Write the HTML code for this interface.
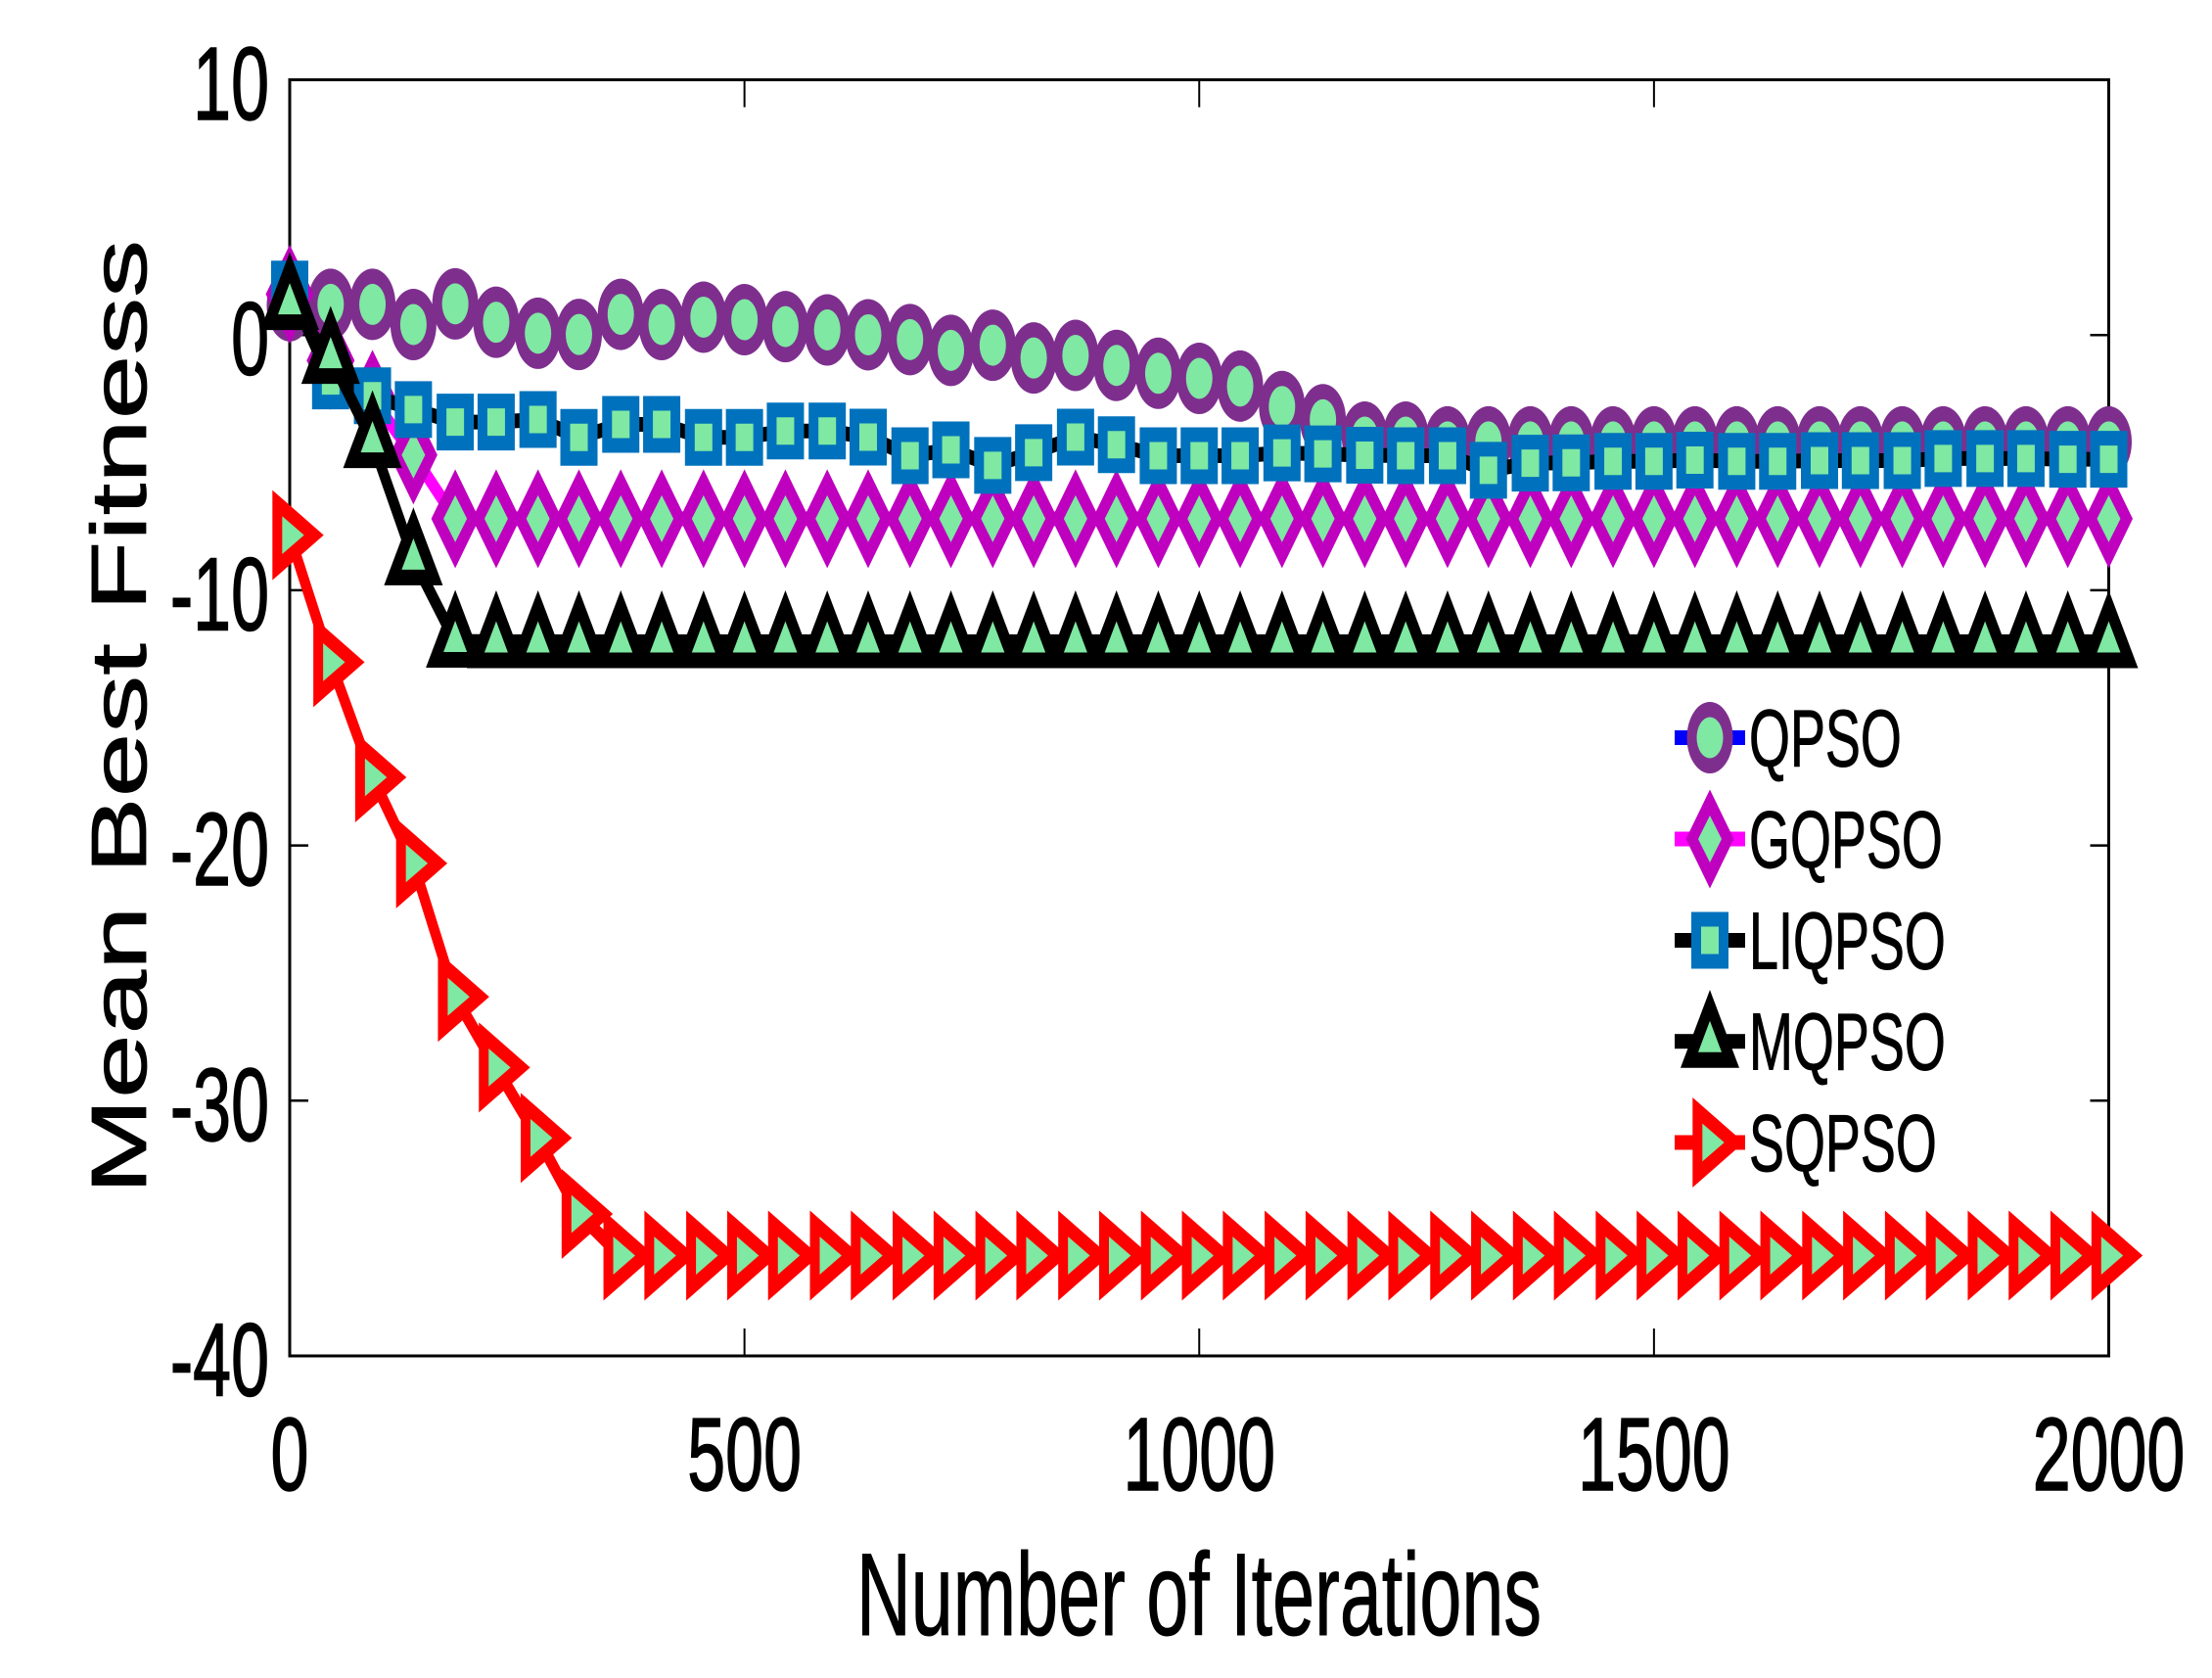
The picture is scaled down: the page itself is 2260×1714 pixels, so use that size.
<!DOCTYPE html>
<html>
<head>
<meta charset="utf-8">
<title>Mean Best Fitness vs Iterations</title>
<style>
html,body{margin:0;padding:0;background:#fff;}
svg{display:block;}
text{font-family:"Liberation Sans",sans-serif;fill:#000;}
</style>
</head>
<body>
<svg id="chart" xmlns="http://www.w3.org/2000/svg" width="2260" height="1714" viewBox="0 0 2260 1714">
  <rect x="0" y="0" width="2260" height="1714" fill="#fff"/>
  <g id="axes"></g>
  <g id="series"></g>
  <g id="legend"></g>
  <text x="875" y="1670" font-size="120" stroke="#000" stroke-width="1" textLength="700" lengthAdjust="spacingAndGlyphs">Number of Iterations</text>
  <text transform="translate(149,1220) rotate(-90)" font-size="80" stroke="#000" stroke-width="0.8" textLength="975" lengthAdjust="spacingAndGlyphs">Mean Best Fitness</text>
</svg>
<script>
const iterations = [0,45,91,136,182,227,273,318,364,409,455,500,545,591,636,682,727,773,818,864,909,955,1000,1045,1091,1136,1182,1227,1273,1318,1364,1409,1455,1500,1545,1591,1636,1682,1727,1773,1818,1864,1909,1955,2000];
const qpsoValues = [1.15,1.2,1.2,0.41,1.22,0.5,0.07,0.02,0.81,0.41,0.7,0.6,0.33,0.2,0.01,-0.18,-0.6,-0.4,-0.9,-0.8,-1.19,-1.5,-1.7,-2.0,-2.8,-3.32,-4.0,-4.0,-4.19,-4.19,-4.19,-4.19,-4.19,-4.19,-4.19,-4.19,-4.19,-4.19,-4.19,-4.19,-4.19,-4.19,-4.19,-4.19,-4.19];
const gqpsoValues = [1.6,-1.0,-2.52,-4.7,-7.2,-7.2,-7.2,-7.2,-7.2,-7.2,-7.2,-7.2,-7.2,-7.2,-7.2,-7.2,-7.2,-7.2,-7.2,-7.2,-7.2,-7.2,-7.2,-7.2,-7.2,-7.2,-7.2,-7.2,-7.2,-7.2,-7.2,-7.2,-7.2,-7.2,-7.2,-7.2,-7.2,-7.2,-7.2,-7.2,-7.2,-7.2,-7.2,-7.2,-7.2];
const liqpsoValues = [1.8,-1.8,-2.38,-2.92,-3.41,-3.41,-3.31,-4.01,-3.5,-3.5,-4.01,-4.01,-3.76,-3.76,-4.0,-4.73,-4.5,-5.11,-4.61,-4.0,-4.3,-4.73,-4.73,-4.73,-4.62,-4.66,-4.71,-4.73,-4.73,-5.3,-5.02,-5.01,-4.95,-4.95,-4.9,-4.95,-4.95,-4.92,-4.92,-4.92,-4.84,-4.84,-4.84,-4.87,-4.87];
const mqpsoValues = [1.23,-0.88,-4.18,-8.77,-12.0,-12.02,-12.02,-12.02,-12.02,-12.02,-12.02,-12.02,-12.02,-12.02,-12.02,-12.02,-12.02,-12.02,-12.02,-12.02,-12.02,-12.02,-12.02,-12.02,-12.02,-12.02,-12.02,-12.02,-12.02,-12.02,-12.02,-12.02,-12.02,-12.02,-12.02,-12.02,-12.02,-12.02,-12.02,-12.02,-12.02,-12.02,-12.02,-12.02,-12.02];
const sqpsoValues = [-7.84,-12.82,-17.33,-20.7,-25.93,-28.7,-31.46,-34.44,-36.07,-36.07,-36.07,-36.07,-36.07,-36.07,-36.07,-36.07,-36.07,-36.07,-36.07,-36.07,-36.07,-36.07,-36.07,-36.07,-36.07,-36.07,-36.07,-36.07,-36.07,-36.07,-36.07,-36.07,-36.07,-36.07,-36.07,-36.07,-36.07,-36.07,-36.07,-36.07,-36.07,-36.07,-36.07,-36.07,-36.07];
const xTicks = [0,500,1000,1500,2000];
const yTicks = [10,0,-10,-20,-30,-40];
const legendLabels = ["QPSO","GQPSO","LIQPSO","MQPSO","SQPSO"];

const NS = "http://www.w3.org/2000/svg";
const FILL = "#7FE8A2";
const LEFT = 296, RIGHT = 2154.5, TOP = 81.5, BOTTOM = 1385;
const X_MIN = 0, X_MAX = 2000, Y_MIN = -40, Y_MAX = 10;
function xScale(v){ return LEFT + (v - X_MIN) / (X_MAX - X_MIN) * (RIGHT - LEFT); }
function yScale(v){ return TOP + (Y_MAX - v) / (Y_MAX - Y_MIN) * (BOTTOM - TOP); }

function make(tag, attrs, parent){
  const el = document.createElementNS(NS, tag);
  for (const k in attrs) el.setAttribute(k, attrs[k]);
  parent.appendChild(el);
  return el;
}
function poly(parent, pts, fill, cx, cy){
  return make("polygon", {points: pts.map(p => (cx + p[0]) + "," + (cy + p[1])).join(" "), fill: fill}, parent);
}

const markerDrawers = {
  circle(g, cx, cy){
    make("ellipse", {cx: cx, cy: cy, rx: 23.5, ry: 36.5, fill: "#7E2F8E"}, g);
    make("ellipse", {cx: cx, cy: cy, rx: 13.5, ry: 21, fill: FILL}, g);
  },
  diamond(g, cx, cy){
    poly(g, [[0,-50.5],[24.5,0],[0,50.5],[-24.5,0]], "#BF00BF", cx, cy);
    poly(g, [[0,-24],[12,0],[0,24],[-12,0]], FILL, cx, cy);
  },
  square(g, cx, cy){
    poly(g, [[-19,-29],[19,-29],[19,29],[-19,29]], "#0072BD", cx, cy);
    poly(g, [[-9,-14],[9,-14],[9,14],[-9,14]], FILL, cx, cy);
  },
  triangleUp(g, cx, cy){
    poly(g, [[0,-52.6],[30,27],[-30,27]], "#000000", cx, cy);
    poly(g, [[0,-21],[12,11],[-12,11]], FILL, cx, cy);
  },
  triangleRight(g, cx, cy){
    poly(g, [[-17.7,-46],[34.7,0],[-17.7,46]], "#FF0000", cx, cy);
    poly(g, [[-7.7,-19.4],[14.7,0],[-7.7,19.4]], FILL, cx, cy);
  }
};

/* axes */
const axes = document.getElementById("axes");
const frame = make("rect", {x: LEFT, y: TOP, width: RIGHT - LEFT, height: BOTTOM - TOP, fill: "none", stroke: "#000", "stroke-width": 3}, axes);



xTicks.forEach(function(t){
  const x = xScale(t);
  const bottomTick = make("line", {x1: x, x2: x, y1: BOTTOM, y2: BOTTOM - 28, stroke: "#000", "stroke-width": 2}, axes);
  
  
  const topTick = make("line", {x1: x, x2: x, y1: TOP, y2: TOP + 28, stroke: "#000", "stroke-width": 2}, axes);
  
  
  const label = make("text", {"text-anchor": "middle", "font-size": 106, stroke: "#000", "stroke-width": 1.5, transform: "translate(" + x + ",1522) scale(0.66,1)"}, axes);
  label.textContent = String(t);
  
  
});
yTicks.forEach(function(t){
  const y = yScale(t);
  const leftTick = make("line", {x1: LEFT, x2: LEFT + 19, y1: y, y2: y, stroke: "#000", "stroke-width": 2.5}, axes);
  
  
  const rightTick = make("line", {x1: RIGHT, x2: RIGHT - 19, y1: y, y2: y, stroke: "#000", "stroke-width": 2.5}, axes);
  
  
  const label = make("text", {"text-anchor": "end", "font-size": 106, stroke: "#000", "stroke-width": 1.5, transform: "translate(275," + (y + 40.5) + ") scale(0.66,1)"}, axes);
  label.textContent = String(t);
  
  
});

/* series */
const seriesList = [
  {key: "qpso", values: qpsoValues, line: "#0000FF", marker: "circle"},
  {key: "gqpso", values: gqpsoValues, line: "#FF00FF", marker: "diamond"},
  {key: "liqpso", values: liqpsoValues, line: "#000000", marker: "square"},
  {key: "mqpso", values: mqpsoValues, line: "#000000", marker: "triangleUp"},
  {key: "sqpso", values: sqpsoValues, line: "#FF0000", marker: "triangleRight"}
];
const seriesRoot = document.getElementById("series");
/* the source figure is stretched vertically, so strokes are drawn in a 1 x 1.5 space */
const STRETCH = 1.5;
seriesList.forEach(function(s){
  const g = make("g", {}, seriesRoot);
  
  
  const lineWrap = make("g", {transform: "scale(1," + STRETCH + ")"}, g);
  const pts = s.values.map(function(v, i){ return xScale(iterations[i]) + "," + (yScale(v) / STRETCH); }).join(" ");
  const line = make("polyline", {points: pts, fill: "none", stroke: s.line, "stroke-width": 10, "stroke-linejoin": "round"}, lineWrap);
  
  
  s.values.forEach(function(v, i){
    const m = make("g", {}, g);
    
    
    markerDrawers[s.marker](m, xScale(iterations[i]), yScale(v));
  });
});

/* legend */
const legendRoot = document.getElementById("legend");
const legendRowY = [753.5, 857, 960.5, 1063.7, 1167];
legendLabels.forEach(function(label, i){
  const s = seriesList[i];
  const row = make("g", {}, legendRoot);
  
  
  const y = legendRowY[i];
  const sample = make("rect", {x: 1711, y: y - 7.5, width: 72, height: 15, fill: s.line}, row);
  
  
  const m = make("g", {}, row);
  
  
  markerDrawers[s.marker](m, 1747, y);
  const t = make("text", {"font-size": 83, stroke: "#000", "stroke-width": 1, transform: "translate(1787," + (y + 29) + ") scale(0.65,1)"}, row);
  t.textContent = label;
  
  
});
</script>
</body>
</html>
